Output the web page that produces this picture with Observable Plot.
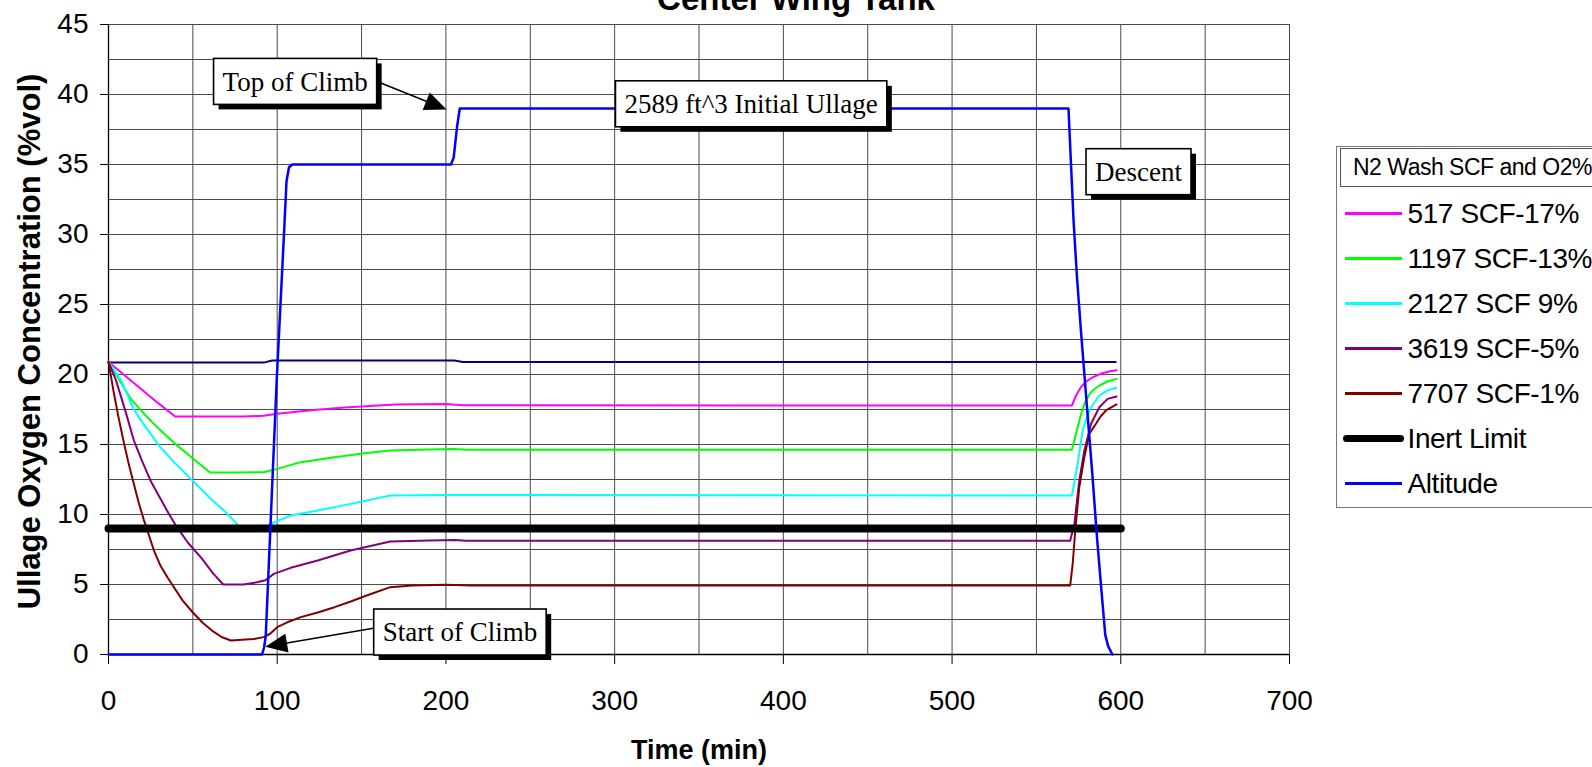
<!DOCTYPE html>
<html><head><meta charset="utf-8">
<script src="https://cdn.jsdelivr.net/npm/d3@7"></script>
<script src="https://cdn.jsdelivr.net/npm/@observablehq/plot@0.6"></script>
<style>
html,body{margin:0;padding:0;background:#fff;overflow:hidden;}
#wrap{position:relative;width:1592px;height:767px;overflow:hidden;font-family:"Liberation Sans",Arial,sans-serif;background:#fff;}
#chart{position:absolute;left:0;top:0;}
#title{position:absolute;left:0;top:-18px;width:1592px;text-align:center;font-weight:bold;font-size:33px;line-height:33px;z-index:2;white-space:nowrap;}
#legend{position:absolute;left:1336px;top:146px;width:320px;height:362px;border:1.5px solid #777;border-right:none;box-sizing:border-box;background:#fff;z-index:2;}
#legend .ltitle{margin:1px 0 0 3px;height:37px;border:1px solid #555;border-right:none;font-size:23px;letter-spacing:-0.5px;line-height:37px;padding-left:12px;white-space:nowrap;}
#legend .rows{margin-top:4px;}
#legend .row{height:45px;display:flex;align-items:center;white-space:nowrap;font-size:28px;letter-spacing:-0.4px;}
</style></head>
<body><div id="wrap"><div id="chart"></div><div id="title">Center Wing Tank</div><div id="legend"></div></div>
<script>
// ---- axis ticks / grid ----
const xTicks = [0, 100, 200, 300, 400, 500, 600, 700];
const yTicks = [0, 5, 10, 15, 20, 25, 30, 35, 40, 45];
const xGrid = [50, 100, 150, 200, 250, 300, 350, 400, 450, 500, 550, 600, 650, 700];
const yGrid = [2.5, 5, 7.5, 10, 12.5, 15, 17.5, 20, 22.5, 25, 27.5, 30, 32.5, 35, 37.5, 40, 42.5, 45];

// ---- series [time (min), value] ----
const scf517 = [[0,20.9],[10,19.9],[20,18.9],[30,17.9],[39.5,17.0],[60,17.0],[80,17.0],[92,17.05],[100,17.2],[120,17.45],[140,17.65],[170,17.85],[200,17.9],[210,17.8],[400,17.78],[571,17.78],[573.5,18.5],[576.4,19.1],[580,19.55],[583.3,19.8],[588,20.05],[593,20.22],[597.5,20.3]];
const scf1197 = [[0,20.9],[6.4,19.6],[13,18.3],[21,17.2],[30,16.1],[40,15.0],[50,14.0],[60.2,13.0],[75,13.0],[92,13.02],[100,13.26],[114,13.74],[134,14.09],[153,14.4],[167,14.57],[190,14.65],[205,14.68],[212,14.62],[571,14.62],[572.5,15.3],[574.4,16.24],[576.5,17.2],[578.4,17.9],[581,18.5],[583.3,18.86],[587.3,19.21],[592,19.5],[597.5,19.69]];
const scf2127 = [[0,20.9],[7.4,19.6],[15,17.5],[20,16.6],[30,14.9],[40,13.6],[50,12.4],[60,11.2],[70,10.1],[78,9.1],[80,9.0],[92,9.0],[96.2,9.33],[108,9.93],[124,10.29],[143.5,10.76],[167,11.36],[200,11.4],[571,11.36],[572.5,12.3],[574.4,13.6],[577.4,16.0],[580,17.0],[582.4,17.66],[587.3,18.5],[592,18.85],[597.2,19.05]];
const scf3619 = [[0,20.9],[4.4,19.6],[10,17.4],[15,15.3],[20,13.8],[25,12.4],[30,11.3],[36,10.0],[40,9.2],[47,8.0],[55,6.9],[62,5.8],[68,5.0],[80,5.0],[88,5.16],[93,5.3],[98,5.76],[108,6.19],[124,6.71],[143.5,7.43],[167,8.07],[190,8.15],[205,8.18],[212,8.12],[570,8.12],[572.5,9.33],[575.4,12.43],[578.4,14.57],[582.4,16.48],[587.3,17.66],[592.2,18.26],[597.5,18.43]];
const scf7707 = [[0,20.9],[3,18.8],[6,16.9],[9,15.2],[12,13.6],[15,12.2],[18,10.8],[21,9.6],[24,8.5],[27,7.4],[31,6.3],[35,5.5],[38,4.95],[44,3.85],[50,3.0],[56,2.25],[62,1.65],[67,1.25],[72.5,1.0],[86,1.1],[92,1.24],[96,1.5],[100,1.95],[106,2.3],[114,2.67],[124,3.0],[134,3.38],[144,3.8],[153,4.21],[167,4.81],[180,4.93],[200,4.98],[215,4.93],[570,4.93],[571.5,6.48],[573,8.86],[575.4,11.95],[578.4,14.1],[581.3,15.76],[585.3,16.48],[588,17.0],[591.2,17.43],[597.5,17.86]];
const ambient = [[0,20.85],[92,20.85],[97,21.0],[205,21.0],[210,20.9],[597,20.9]];
const inertLimit = [[0,9],[600,9]];
const altitude = [[0,0],[91,0],[92.2,0.5],[93.2,1.3],[99.7,19.6],[104,30],[105.5,33.8],[107,34.8],[109,35],[203,35],[204.6,35.5],[206.6,37.7],[208.2,39],[569,39],[570.5,35],[572,31],[574,27],[576.4,23.1],[580,17.6],[583,13.1],[586,8.2],[589,3.9],[590.8,1.4],[592.5,0.6],[595,0]];

// ---- annotations ----
const noteLabels = ["Top of Climb", "2589 ft^3 Initial Ullage", "Descent", "Start of Climb"];
const noteX = [110.9, 381.2, 610.8, 208.6];
const noteY = [40.9, 39.3, 34.45, 1.57];
const arrowFromX = [157.3, 157.3];
const arrowFromY = [41.0, 1.84];
const arrowToX = [200.7, 93.2];
const arrowToY = [38.9, 0.52];

// ---- legend ----
const legendTitle = "N2 Wash SCF and O2%";
const legendLabels = ["517 SCF-17%", "1197 SCF-13%", "2127 SCF 9%", "3619 SCF-5%", "7707 SCF-1%", "Inert Limit", "Altitude"];
const legendColors = ["#FF00FF", "#00FF00", "#00FFFF", "#800080", "#800000", "#000000", "#0000FF"];

function callouts(index, scales) {
  const g = d3.create("svg:g");
  const ctx = document.createElement("canvas").getContext("2d");
  ctx.font = "27px 'Liberation Serif'";
  arrowFromX.forEach((_, i) => {
    const x1 = scales.x(arrowFromX[i]), y1 = scales.y(arrowFromY[i]);
    const x2 = scales.x(arrowToX[i]), y2 = scales.y(arrowToY[i]);
    const a = Math.atan2(y2 - y1, x2 - x1), L = 22, W = 9.5;
    const bx = x2 - L * Math.cos(a), by = y2 - L * Math.sin(a);
    g.append("line").attr("x1", x1).attr("y1", y1).attr("x2", bx).attr("y2", by)
      .attr("stroke", "#000").attr("stroke-width", 1.6);
    g.append("path").attr("d", `M${x2},${y2}L${bx + W * Math.sin(a)},${by - W * Math.cos(a)}L${bx - W * Math.sin(a)},${by + W * Math.cos(a)}Z`)
      .attr("fill", "#000");
  });
  noteLabels.forEach((t, i) => {
    const cx = scales.x(noteX[i]), cy = scales.y(noteY[i]);
    const w = ctx.measureText(t).width + 18, h = 46;
    g.append("rect").attr("x", cx - w / 2 + 5).attr("y", cy - h / 2 + 5).attr("width", w).attr("height", h).attr("fill", "#000");
    g.append("rect").attr("x", cx - w / 2).attr("y", cy - h / 2).attr("width", w).attr("height", h)
      .attr("fill", "#fff").attr("stroke", "#000").attr("stroke-width", 1.6);
    g.append("text").attr("x", cx).attr("y", cy).attr("dy", "0.34em").attr("text-anchor", "middle")
      .attr("font-family", "'Liberation Serif', 'Times New Roman', serif").attr("font-size", 27).attr("fill", "#000").text(t);
  });
  return g.node();
}

const line = (data, stroke, w = 2) => Plot.line(data, {x: d => d[0], y: d => d[1], stroke, strokeWidth: w});

const chart = Plot.plot({
  width: 1592, height: 767,
  marginLeft: 108, marginRight: 303, marginTop: 24, marginBottom: 113,
  style: {fontFamily: "'Liberation Sans', Arial, sans-serif", fontSize: "28px", color: "#000", background: "transparent", overflow: "visible"},
  x: {domain: [0, 700], ticks: xTicks, tickSize: 10, tickPadding: 26, label: null, tickFormat: d => d},
  y: {domain: [0, 45], ticks: yTicks, tickSize: 8, tickPadding: 12, label: null, tickFormat: d => d},
  marks: [
    Plot.ruleX(xGrid, {stroke: "#4a4a4a", strokeWidth: 1}),
    Plot.ruleY(yGrid, {stroke: "#4a4a4a", strokeWidth: 1}),
    Plot.ruleY([0], {stroke: "#000", strokeWidth: 1.3}),
    Plot.ruleX([0], {stroke: "#000", strokeWidth: 1.3}),
    line(ambient, "#000080"),
    line(scf517, "#FF00FF"),
    line(scf1197, "#00FF00"),
    line(scf2127, "#00FFFF"),
    line(scf3619, "#800080"),
    line(scf7707, "#800000"),
    Plot.line(inertLimit, {x: d => d[0], y: d => d[1], stroke: "#000", strokeWidth: 8, strokeLinecap: "round"}),
    line(altitude, "#0000FF", 2.5),
    callouts,
    Plot.text(["Time (min)"], {frameAnchor: "bottom", lineAnchor: "middle", textAnchor: "middle", dy: 96, fontWeight: "bold", fontSize: 27}),
    Plot.text(["Ullage Oxygen Concentration (%vol)"], {frameAnchor: "left", textAnchor: "middle", lineAnchor: "middle", dx: -78, dy: 2, rotate: -90, fontWeight: "bold", fontSize: 31})
  ]
});
document.getElementById("chart").appendChild(chart);

// legend
const leg = d3.select("#legend");
leg.append("div").attr("class", "ltitle").text(legendTitle);
const rows = leg.append("div").attr("class", "rows");
legendLabels.forEach((lab, i) => {
  const r = rows.append("div").attr("class", "row");
  const thick = lab === "Inert Limit";
  r.append("div").style("margin-left", thick ? "5.5px" : "7.5px").style("width", thick ? "61px" : "57px")
    .style("height", thick ? "7px" : "2.5px").style("border-radius", thick ? "4px" : "0")
    .style("background", legendColors[i]).style("flex", "none");
  r.append("span").style("margin-left", thick ? "4px" : "6px").text(lab);
});
</script></body></html>
